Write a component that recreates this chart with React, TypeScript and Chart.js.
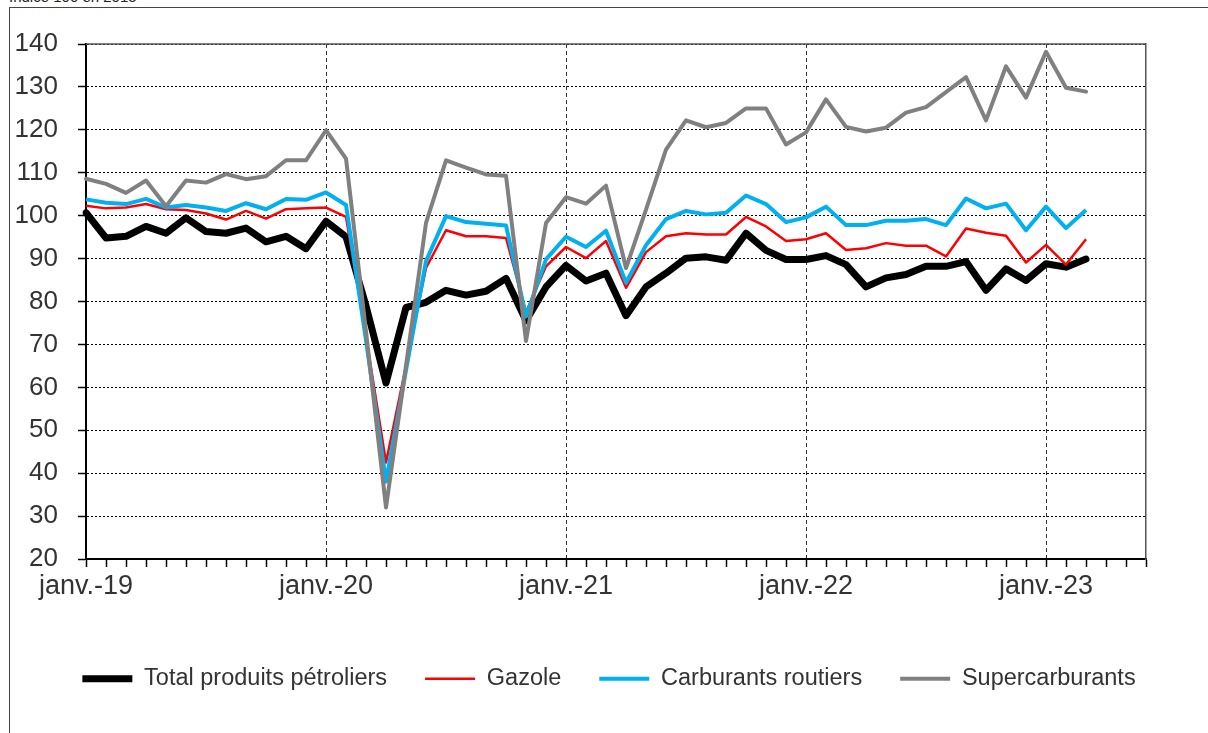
import React, { useEffect, useRef } from 'react';
import { Chart, registerables } from 'chart.js';

Chart.register(...registerables);

// ---- Data ----
const MONTHS = ['janv.', 'févr.', 'mars', 'avr.', 'mai', 'juin', 'juil.', 'août', 'sept.', 'oct.', 'nov.', 'déc.'];
const YEARS = ['19', '20', '21', '22', '23'];
const AXIS_MONTH_COUNT = 54; // janv.-19 .. juin-23
const Y_MIN = 20;
const Y_MAX = 140;
const Y_STEP = 10;

const SERIES_NAMES = ['Total produits pétroliers', 'Gazole', 'Carburants routiers', 'Supercarburants'];

const totalProduits = [
  100.7, 94.8, 95.2, 97.5, 95.9, 99.5, 96.3, 95.9, 97.1, 93.9, 95.2, 92.3,
  98.7, 95.1, 79.0, 61.0, 78.6, 79.8, 82.6, 81.5, 82.4, 85.4, 75.5, 83.4,
  88.4, 84.8, 86.6, 76.7, 83.4, 86.6, 90.1, 90.4, 89.6, 95.9, 91.9, 89.8,
  89.8, 90.7, 88.6, 83.4, 85.5, 86.3, 88.2, 88.2, 89.3, 82.6, 87.6, 84.9,
  88.8, 88.0, 89.9,
];

const gazole = [
  102.3, 101.7, 101.9, 102.7, 101.5, 101.3, 100.5, 99.1, 101.1, 99.3, 101.5, 101.7,
  101.9, 99.7, 72.0, 42.5, 65.0, 87.8, 96.6, 95.2, 95.2, 94.8, 77.5, 88.2,
  92.7, 90.1, 94.1, 83.2, 91.5, 95.2, 95.9, 95.6, 95.6, 99.7, 97.5, 94.1,
  94.5, 95.9, 92.0, 92.4, 93.6, 93.0, 93.0, 90.5, 97.0, 96.0, 95.3, 89.1,
  93.2, 88.6, 94.5,
];

const carburantsRoutiers = [
  103.8, 103.0, 102.7, 103.9, 101.9, 102.5, 101.9, 101.1, 102.9, 101.5, 103.9, 103.7,
  105.4, 102.5, 71.0, 38.0, 64.0, 89.4, 99.9, 98.5, 98.1, 97.7, 76.5, 89.8,
  95.1, 92.7, 96.5, 84.4, 93.1, 99.2, 101.1, 100.3, 100.7, 104.7, 102.7, 98.5,
  99.6, 102.1, 97.8, 97.8, 98.8, 98.8, 99.2, 97.8, 104.0, 101.7, 102.8, 96.6,
  102.1, 97.1, 101.3,
];

const supercarburants = [
  108.6, 107.4, 105.3, 108.2, 102.2, 108.2, 107.7, 109.7, 108.5, 109.2, 112.9, 112.9,
  119.9, 113.3, 73.0, 32.0, 65.0, 98.3, 112.9, 111.2, 109.6, 109.3, 70.8, 98.3,
  104.3, 102.8, 107.0, 87.8, 101.4, 115.4, 122.2, 120.6, 121.6, 125.0, 125.0, 116.6,
  119.4, 127.1, 120.7, 119.6, 120.5, 124.0, 125.3, 128.8, 132.3, 122.2, 134.8, 127.5,
  138.2, 129.8, 128.9,
];

const FONT = "'Liberation Sans', Arial, sans-serif";
const TEXT_COLOR = '#333333';

const plotFrame = {
  id: 'plotFrame',
  beforeDatasetsDraw(chart: any) {
    const { ctx, chartArea: a } = chart;
    ctx.save();
    ctx.strokeStyle = '#555555';
    ctx.lineWidth = 1.5;
    ctx.beginPath();
    ctx.moveTo(a.left, a.top);
    ctx.lineTo(a.right, a.top);
    ctx.stroke();
    ctx.restore();
  },
};

export default function App() {
  const ref = useRef<HTMLCanvasElement>(null);

  useEffect(() => {
    if (!ref.current) return;
    Chart.defaults.font.family = FONT;
    const labels = YEARS.flatMap((y) => MONTHS.map((m) => `${m}-${y}`)).slice(0, AXIS_MONTH_COUNT);

    const mk = (label: string, data: number[], color: string, width: number, order: number, cap: string) => ({
      label,
      data,
      borderColor: color,
      backgroundColor: color,
      borderWidth: width,
      pointRadius: 0,
      pointHoverRadius: 0,
      pointStyle: 'line',
      tension: 0,
      order,
      borderCapStyle: cap,
      borderJoinStyle: 'round',
      yAxisID: 'y',
    });

    const chart = new Chart(ref.current, {
      type: 'line',
      data: {
        labels,
        datasets: [
          mk(SERIES_NAMES[0], totalProduits, '#000000', 7, 4, 'round'),
          mk(SERIES_NAMES[1], gazole, '#FF0000', 2.5, 3, 'butt'),
          mk(SERIES_NAMES[2], carburantsRoutiers, '#00B0F0', 4, 2, 'butt'),
          mk(SERIES_NAMES[3], supercarburants, '#808080', 4, 1, 'round'),
        ] as any,
      },
      options: {
        responsive: false,
        animation: false,
        devicePixelRatio: 1,
        events: [],
        layout: { padding: { top: 36, left: 0, right: 0, bottom: 32.5 } },
        plugins: {
          tooltip: { enabled: false },
          legend: {
            position: 'bottom',
            align: 'center',
            labels: {
              usePointStyle: true,
              pointStyleWidth: 50,
              padding: 38,
              color: TEXT_COLOR,
              font: { size: 23.5, family: FONT },
              sort: (a: any, b: any) => a.datasetIndex - b.datasetIndex,
            },
          },
        },
        scales: {
          x: {
            type: 'category',
            offset: false,
            ticks: {
              autoSkip: false,
              maxRotation: 0,
              minRotation: 0,
              padding: 3,
              color: TEXT_COLOR,
              font: { size: 27, family: FONT },
              callback: (_v: any, i: number) => (i % 12 === 0 ? labels[i] : ''),
            },
            grid: {
              color: (c: any) => (c.index % 12 === 0 && c.index > 0 ? '#333333' : 'rgba(0,0,0,0)'),
              lineWidth: 1,
              tickLength: 8,
              tickColor: '#000000',
              tickWidth: 1.5,
            },
            border: { display: true, color: '#000000', width: 2, dash: [4, 3] },
            afterFit: (s: any) => {
              s.height = 70;
            },
          },
          y: {
            type: 'linear',
            position: 'left',
            min: Y_MIN,
            max: Y_MAX,
            ticks: {
              stepSize: Y_STEP,
              padding: 20,
              color: TEXT_COLOR,
              font: { size: 26, family: FONT },
            },
            grid: {
              color: '#000000',
              lineWidth: 1,
              tickLength: 8,
              tickColor: '#000000',
              tickWidth: 1.5,
            },
            border: { display: true, color: '#000000', width: 2, dash: [2, 2] },
            afterFit: (s: any) => {
              s.width = 76;
            },
          },
          y2: {
            type: 'linear',
            position: 'right',
            display: true,
            grid: { display: false, drawOnChartArea: false, drawTicks: false },
            ticks: { display: false },
            border: { display: true, color: '#555555', width: 1.5 },
            afterFit: (s: any) => {
              s.width = 62;
            },
          },
        },
      } as any,
      plugins: [plotFrame],
    });
    return () => chart.destroy();
  }, []);

  return (
    <div>
      <div
        style={{
          position: 'absolute',
          left: 9,
          top: -12,
          fontFamily: FONT,
          fontSize: 15,
          color: '#222',
          whiteSpace: 'nowrap',
        }}
      >
        Indice 100 en 2015
      </div>
      <div
        style={{
          position: 'absolute',
          left: 9,
          top: 7,
          width: 1300,
          height: 800,
          borderLeft: '1px solid #444',
          borderTop: '1px solid #444',
          boxSizing: 'border-box',
        }}
      />
      <canvas
        ref={ref}
        width={1198}
        height={725}
        style={{ position: 'absolute', left: 10, top: 8, width: 1198, height: 725 }}
      />
    </div>
  );
}
